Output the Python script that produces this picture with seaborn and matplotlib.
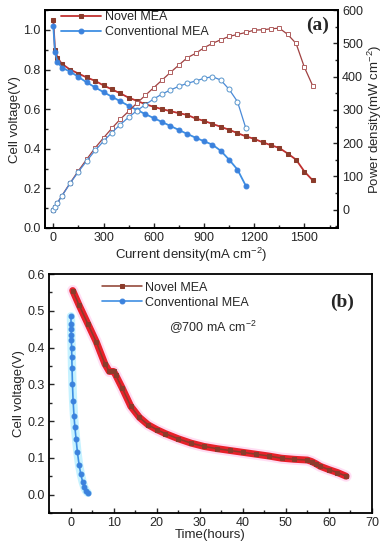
import numpy as np
import pandas as pd
import seaborn as sns
from matplotlib import pyplot as plt
from matplotlib.ticker import MultipleLocator

# (a) polarization and power density curves
novel_current = [0, 10, 25, 50, 100, 150, 200, 250, 300, 350, 400, 450, 500, 550, 600, 650, 700, 750,
                 800, 850, 900, 950, 1000, 1050, 1100, 1150, 1200, 1250, 1300, 1350, 1400, 1450, 1500, 1550]
novel_voltage = [1.05, 0.90, 0.86, 0.83, 0.80, 0.78, 0.76, 0.743, 0.72, 0.70, 0.68, 0.658, 0.642, 0.625,
                 0.612, 0.60, 0.59, 0.58, 0.571, 0.553, 0.541, 0.526, 0.511, 0.496, 0.479, 0.463, 0.45,
                 0.433, 0.418, 0.404, 0.376, 0.345, 0.285, 0.24]
novel_power = [0, 9, 21, 41, 80, 117, 152, 186, 216, 245, 272, 296, 321, 344, 367, 390, 413, 435,
               457, 470, 487, 500, 511, 521, 527, 533, 540, 541, 544, 546, 527, 500, 428, 372]

conv_current = [0, 10, 25, 50, 100, 150, 200, 250, 300, 350, 400, 450, 500, 550, 600, 650, 700, 750,
                800, 850, 900, 950, 1000, 1050, 1100, 1150]
conv_voltage = [1.02, 0.89, 0.84, 0.81, 0.79, 0.763, 0.735, 0.71, 0.686, 0.663, 0.64, 0.617, 0.596,
                0.575, 0.555, 0.535, 0.515, 0.495, 0.475, 0.456, 0.438, 0.421, 0.39, 0.345, 0.295, 0.213]
conv_power = [0, 9, 21, 40, 79, 114, 147, 178, 206, 232, 256, 278, 298, 316, 333, 348, 360, 371,
              380, 387, 395, 400, 390, 362, 325, 245]

# (b) durability at 700 mA cm-2
novel_time = [0.5, 2, 4, 6, 8, 9, 10, 10.5, 12, 14, 16, 18, 20, 22, 25, 28, 31, 34, 37, 40, 43, 46,
              49, 52, 55, 56, 57, 58, 60, 62, 64]
novel_v_time = [0.555, 0.515, 0.465, 0.415, 0.355, 0.335, 0.335, 0.325, 0.29, 0.24, 0.21, 0.19, 0.177,
                0.166, 0.152, 0.14, 0.131, 0.125, 0.12, 0.115, 0.11, 0.105, 0.099, 0.096, 0.094, 0.09,
                0.084, 0.077, 0.068, 0.06, 0.05]
conv_time = [0.1, 0.12, 0.15, 0.18, 0.2, 0.25, 0.3, 0.35, 0.45, 0.6, 0.8, 1.0, 1.3, 1.6, 2.0, 2.4,
             2.8, 3.2, 3.6, 4.0]
conv_v_time = [0.485, 0.465, 0.45, 0.435, 0.42, 0.40, 0.375, 0.345, 0.30, 0.255, 0.215, 0.185, 0.15,
               0.115, 0.08, 0.055, 0.035, 0.02, 0.01, 0.005]

sns.set_style('ticks')
plt.rcParams['font.family'] = ['Liberation Sans', 'DejaVu Sans']
plt.rcParams['mathtext.default'] = 'regular'
plt.rcParams['font.size'] = 9

red_line, red_mark = '#c0302f', '#8b3b2b'
blue_line, blue_mark = '#3f8fe3', '#3b82dd'

fig = plt.figure(figsize=(3.84, 5.5), dpi=100)
ax1 = fig.add_axes([0.117, 0.5855, 0.763, 0.396])
ax2 = ax1.twinx()
axb = fig.add_axes([0.1276, 0.0673, 0.841, 0.4345])

# ---- panel (a)
sns.lineplot(x=novel_current, y=novel_voltage, ax=ax1, color=red_line, lw=1.3, marker='s',
             markersize=3.3, markerfacecolor=red_mark, markeredgecolor=red_mark, label='Novel MEA')
sns.lineplot(x=conv_current, y=conv_voltage, ax=ax1, color=blue_line, lw=1.3, marker='o',
             markersize=3.5, markerfacecolor=blue_mark, markeredgecolor=blue_mark, label='Conventional MEA')
sns.lineplot(x=novel_current, y=novel_power, ax=ax2, color='#a04040', lw=0.9, marker='s',
             markersize=3.4, markerfacecolor='white', markeredgecolor='#b06060', markeredgewidth=0.7)
sns.lineplot(x=conv_current, y=conv_power, ax=ax2, color='#4a8ad8', lw=0.9, marker='o',
             markersize=3.6, markerfacecolor='white', markeredgecolor='#5a96cc', markeredgewidth=0.7)

ax1.set_xlim(-50, 1700)
ax1.set_ylim(0, 1.1)
ax2.set_ylim(-55, 600)
ax1.xaxis.set_major_locator(MultipleLocator(300))
ax1.xaxis.set_minor_locator(MultipleLocator(150))
ax1.set_yticks([0, 0.2, 0.4, 0.6, 0.8, 1.0])
ax1.set_yticklabels(['0.0', '0.2', '0.4', '0.6', '0.8', '1.0'])
ax1.yaxis.set_minor_locator(MultipleLocator(0.1))
ax2.set_yticks([0, 100, 200, 300, 400, 500, 600])
ax2.yaxis.set_minor_locator(MultipleLocator(50))

ax1.set_xlabel('Current density(mA cm$^{-2}$)', fontsize=9.5, labelpad=1)
ax1.set_ylabel('Cell voltage(V)', fontsize=9.5, labelpad=2)
ax2.set_ylabel('Power density(mW cm$^{-2}$)', fontsize=9.5, labelpad=2)
ax1.legend(loc='upper left', bbox_to_anchor=(0.03, 1.03), frameon=False, fontsize=9,
           handlelength=3.2, handletextpad=0.3, labelspacing=0.25, borderaxespad=0.2)
ax1.text(0.93, 0.93, '(a)', transform=ax1.transAxes, ha='center', va='center', fontsize=14,
         fontweight='bold', family=['Liberation Serif', 'DejaVu Serif'])

# ---- panel (b)
sns.lineplot(x=novel_time, y=novel_v_time, ax=axb, color='#ff7ad0', lw=8, alpha=0.25, solid_capstyle='round')
sns.lineplot(x=novel_time, y=novel_v_time, ax=axb, color='#e8202a', lw=5, solid_capstyle='round')
sns.lineplot(x=novel_time, y=novel_v_time, ax=axb, color=red_mark, lw=1.1, marker='s', markersize=2.5,
             markeredgecolor=red_mark, label='Novel MEA')
sns.lineplot(x=conv_time, y=conv_v_time, ax=axb, color='#8fe6ff', lw=6, alpha=0.5, sort=False)
sns.lineplot(x=conv_time, y=conv_v_time, ax=axb, color=blue_line, lw=1.2, marker='o', markersize=3.5,
             markeredgecolor=blue_mark, markerfacecolor=blue_mark, label='Conventional MEA', sort=False)

axb.set_xlim(-5, 70)
axb.set_ylim(-0.05, 0.6)
axb.xaxis.set_major_locator(MultipleLocator(10))
axb.xaxis.set_minor_locator(MultipleLocator(5))
axb.set_yticks([0, 0.1, 0.2, 0.3, 0.4, 0.5, 0.6])
axb.set_yticklabels(['0.0', '0.1', '0.2', '0.3', '0.4', '0.5', '0.6'])
axb.yaxis.set_minor_locator(MultipleLocator(0.05))
axb.set_xlabel('Time(hours)', fontsize=9.5, labelpad=0)
axb.set_ylabel('Cell voltage(V)', fontsize=9.5, labelpad=2)
axb.legend(loc='upper left', bbox_to_anchor=(0.14, 1.0), frameon=False, fontsize=9,
           handlelength=3.2, handletextpad=0.3, labelspacing=0.25, borderaxespad=0.2)
axb.text(0.508, 0.778, '@700 mA cm$^{-2}$', transform=axb.transAxes, ha='center', va='center', fontsize=9)
axb.text(0.907, 0.883, '(b)', transform=axb.transAxes, ha='center', va='center', fontsize=14,
         fontweight='bold', family=['Liberation Serif', 'DejaVu Serif'])

for ax in [ax1, ax2, axb]:
    for sp in ax.spines.values():
        sp.set_linewidth(1.3)
        sp.set_color('black')
    ax.tick_params(which='both', direction='in', labelsize=9, width=1.0, pad=3)
    ax.tick_params(which='major', length=3.5)
    ax.tick_params(which='minor', length=2)

fig.savefig('out.png', dpi=100)
